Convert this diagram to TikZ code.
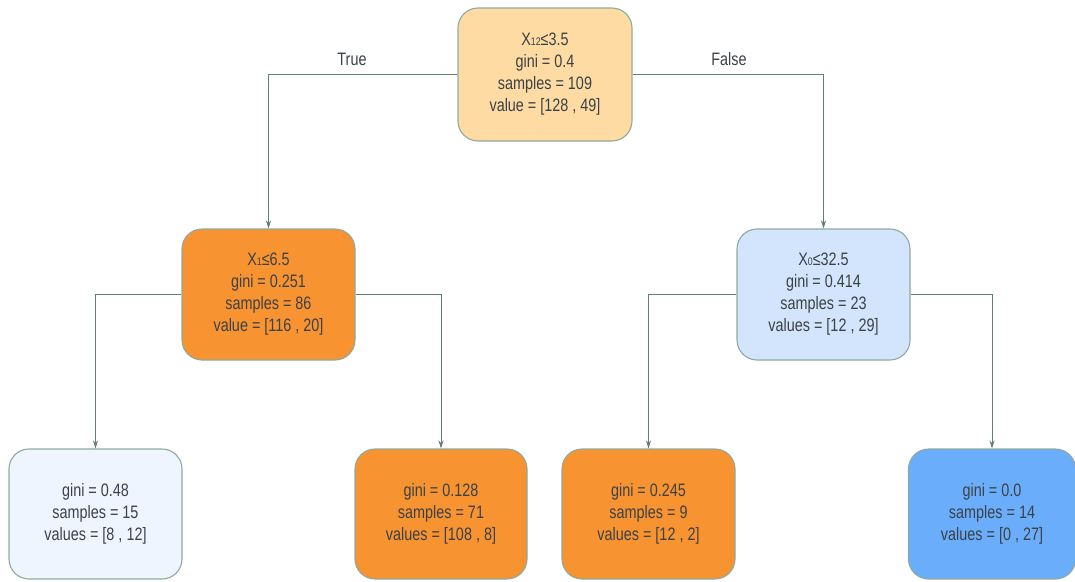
\documentclass[tikz,border=0pt]{standalone}
\usepackage{fontspec}
\setmainfont[FakeStretch=0.8]{Liberation Sans}
\usetikzlibrary{arrows.meta}
\definecolor{rootfill}{HTML}{FDDBA3}
\definecolor{orangefill}{HTML}{F79331}
\definecolor{lbluefill}{HTML}{D2E5FC}
\definecolor{vlbluefill}{HTML}{EEF5FE}
\definecolor{bluefill}{HTML}{6AAEFB}
\definecolor{edgec}{HTML}{8FAA9C}
\definecolor{linec}{HTML}{5F7F74}
\definecolor{txt}{HTML}{3C4146}
\newcommand{\sbs}[1]{{\fontsize{11}{11}\selectfont #1}}
\begin{document}
\begin{tikzpicture}[x=1pt,y=-1pt,
  tnode/.style={draw=edgec, line width=1.1pt, rounded corners=20pt, align=center,
    text=txt, font=\fontsize{18}{22}\selectfont, inner sep=0pt},
  conn/.style={draw=linec, line width=0.8pt, -{Stealth[length=8pt,width=5pt]}},
  lbl/.style={text=txt, font=\fontsize{18}{22}\selectfont}]
\useasboundingbox (0,0) rectangle (1075,581);
\node[tnode, fill=rootfill, minimum width=174pt, minimum height=133pt] (root) at (545,74.5)
  {X\sbs{12}≤3.5\\gini = 0.4\\samples = 109\\value = [128 , 49]};
\node[tnode, fill=orangefill, minimum width=173pt, minimum height=131pt] (a) at (268.5,294.5)
  {X\sbs{1}≤6.5\\gini = 0.251\\samples = 86\\value = [116 , 20]};
\node[tnode, fill=lbluefill, minimum width=173pt, minimum height=131pt] (b) at (823.5,294.5)
  {X\sbs{0}≤32.5\\gini = 0.414\\samples = 23\\values = [12 , 29]};
\node[tnode, fill=vlbluefill, minimum width=173pt, minimum height=130pt] (l1) at (95.5,514)
  {gini = 0.48\\samples = 15\\values = [8 , 12]};
\node[tnode, fill=orangefill, minimum width=172pt, minimum height=130pt] (l2) at (441,514)
  {gini = 0.128\\samples = 71\\values = [108 , 8]};
\node[tnode, fill=orangefill, minimum width=173pt, minimum height=130pt] (l3) at (648.5,514)
  {gini = 0.245\\samples = 9\\values = [12 , 2]};
\node[tnode, fill=bluefill, minimum width=167pt, minimum height=130pt] (l4) at (992,514)
  {gini = 0.0\\samples = 14\\values = [0 , 27]};
\draw[conn] (root.west) -| (a.north);
\draw[conn] (root.east) -| (b.north);
\draw[conn] (a.west) -| (l1.north);
\draw[conn] (a.east) -| (l2.north);
\draw[conn] (b.west) -| (l3.north);
\draw[conn] (b.east) -| (l4.north);
\node[lbl] (t) at (352,59) {True};
\node[lbl] (f) at (729,59) {False};
\end{tikzpicture}
\end{document}
